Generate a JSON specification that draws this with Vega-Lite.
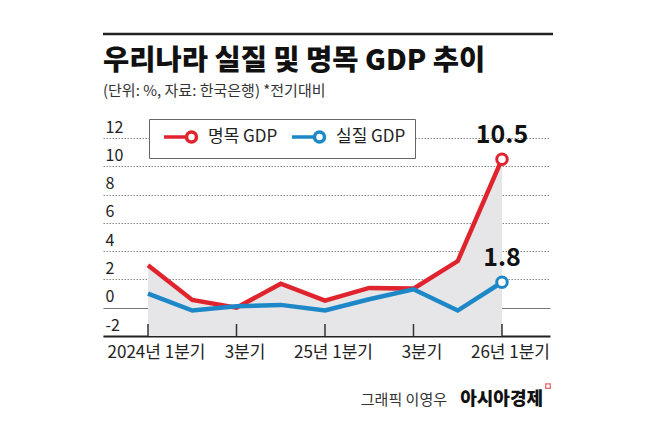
{
  "$schema": "https://vega.github.io/schema/vega-lite/v6.json",
  "autosize": {"type": "none"},
  "width": 447,
  "height": 198,
  "padding": {"left": 103, "top": 138, "right": 108, "bottom": 95},
  "background": "white",
  "title": {
    "text": "우리나라 실질 및 명목 GDP 추이",
    "subtitle": "(단위: %, 자료: 한국은행) *전기대비",
    "anchor": "start",
    "frame": "group",
    "font": "Noto Sans CJK KR",
    "fontSize": 28.5,
    "fontWeight": 900,
    "color": "#111",
    "subtitleFont": "Noto Sans CJK KR",
    "subtitleFontSize": 15,
    "subtitleColor": "#333",
    "subtitlePadding": 8,
    "offset": 0,
    "dy": 66
  },
  "data": {
    "values": [
      {"i": 0, "series": "명목 GDP", "value": 3.0},
      {"i": 1, "series": "명목 GDP", "value": 0.55},
      {"i": 2, "series": "명목 GDP", "value": 0.0},
      {"i": 3, "series": "명목 GDP", "value": 1.7},
      {"i": 4, "series": "명목 GDP", "value": 0.5},
      {"i": 5, "series": "명목 GDP", "value": 1.4},
      {"i": 6, "series": "명목 GDP", "value": 1.35},
      {"i": 7, "series": "명목 GDP", "value": 3.3},
      {"i": 8, "series": "명목 GDP", "value": 10.5},
      {"i": 0, "series": "실질 GDP", "value": 1.0},
      {"i": 1, "series": "실질 GDP", "value": -0.2},
      {"i": 2, "series": "실질 GDP", "value": 0.1},
      {"i": 3, "series": "실질 GDP", "value": 0.2},
      {"i": 4, "series": "실질 GDP", "value": -0.2},
      {"i": 5, "series": "실질 GDP", "value": 0.6},
      {"i": 6, "series": "실질 GDP", "value": 1.3},
      {"i": 7, "series": "실질 GDP", "value": -0.2},
      {"i": 8, "series": "실질 GDP", "value": 1.8}
    ]
  },
  "encoding": {
    "x": {
      "field": "i",
      "type": "quantitative",
      "scale": {"domain": [-1.017, 9.085], "nice": false, "zero": false},
      "axis": {
        "values": [0, 2, 4, 6, 8],
        "labelExpr": "['2024년 1분기','','3분기','','25년 1분기','','3분기','','26년 1분기'][datum.value]",
        "title": null,
        "grid": false,
        "ticks": false,
        "domainColor": "#222",
        "domainWidth": 2,
        "labelFont": "Noto Sans CJK KR",
        "labelFontSize": 17,
        "labelColor": "#222",
        "labelPadding": 8,
        "labelOffset": 8
      }
    },
    "y": {
      "field": "value",
      "type": "quantitative",
      "scale": {"domain": [-2, 12], "nice": false, "zero": false},
      "axis": {
        "values": [-2, 0, 2, 4, 6, 8, 10, 12],
        "labelExpr": "'' + datum.value",
        "title": null,
        "domain": false,
        "ticks": false,
        "labelAlign": "left",
        "labelBaseline": "alphabetic",
        "labelOffset": -6,
        "labelPadding": -2,
        "labelFont": "Noto Sans CJK KR",
        "labelFontSize": 16,
        "labelColor": "#222",
        "grid": true,
        "gridColor": {"condition": {"test": "datum.value === 0", "value": "#777"}, "value": "#888"},
        "gridDash": {"condition": {"test": "datum.value === 0", "value": []}, "value": [1.5, 1.5]},
        "gridWidth": 1
      }
    }
  },
  "layer": [
    {
      "transform": [{"filter": "datum.series == '명목 GDP'"}],
      "mark": {"type": "area", "color": "#e6e6e8"},
      "encoding": {"y2": {"datum": -2}}
    },
    {
      "transform": [{"filter": "datum.series == '명목 GDP' && datum.i % 2 == 0"}],
      "mark": {"type": "rule", "color": "#333", "strokeWidth": 1.5},
      "encoding": {"y": {"datum": -2}, "y2": {"datum": -1.15}}
    },
    {
      "mark": {"type": "line", "strokeWidth": 4.5, "strokeJoin": "miter"},
      "encoding": {
        "color": {
          "field": "series",
          "type": "nominal",
          "scale": {"domain": ["명목 GDP", "실질 GDP"], "range": ["#e0242e", "#1d88c8"]},
          "legend": {
            "title": null,
            "orient": "none",
            "legendX": 46,
            "legendY": -19,
            "direction": "horizontal",
            "strokeColor": "#666",
            "fillColor": "white",
            "padding": 9,
            "symbolType": "M-2.43,0H0.79M2.21,0A0.71,0.71,0,1,1,0.79,0A0.71,0.71,0,1,1,2.21,0",
            "symbolSize": 196,
            "symbolStrokeWidth": 3.5,
            "symbolOffset": 14,
            "labelOffset": 18,
            "columnPadding": 6,
            "labelFont": "Noto Sans CJK KR",
            "labelFontSize": 17,
            "labelColor": "#222",
            "encode": {"symbols": {"update": {"fill": {"value": "white"}}}}
          }
        }
      }
    },
    {
      "transform": [{"filter": "datum.i == 8"}],
      "mark": {"type": "point", "filled": true, "fill": "white", "size": 110, "strokeWidth": 3, "opacity": 1},
      "encoding": {
        "stroke": {"field": "series", "type": "nominal", "scale": {"domain": ["명목 GDP", "실질 GDP"], "range": ["#e0242e", "#1d88c8"]}, "legend": null}
      }
    },
    {
      "transform": [{"filter": "datum.i == 8"}],
      "mark": {"type": "text", "dy": -24, "font": "Noto Sans CJK KR", "fontSize": 25, "fontWeight": "bold", "color": "#111"},
      "encoding": {"text": {"field": "value", "type": "quantitative", "format": ".1f"}}
    },
    {
      "transform": [{"filter": "datum.i == 0 && datum.series == '명목 GDP'"}],
      "mark": {"type": "rule", "color": "#222", "strokeWidth": 2.5},
      "encoding": {"x": {"datum": -1.017}, "x2": {"datum": 9.153}, "y": {"datum": 19.35}}
    },
    {
      "transform": [{"filter": "datum.i == 0 && datum.series == '명목 GDP'"}],
      "mark": {"type": "text", "align": "right", "font": "Noto Sans CJK KR", "fontSize": 15, "color": "#333"},
      "encoding": {"x": {"datum": 6.757}, "y": {"datum": -6.5}, "text": {"value": "그래픽 이영우"}}
    },
    {
      "transform": [{"filter": "datum.i == 0 && datum.series == '명목 GDP'"}],
      "mark": {"type": "text", "align": "right", "font": "Noto Sans CJK KR", "fontSize": 18, "fontWeight": 900, "color": "#111"},
      "encoding": {"x": {"datum": 8.927}, "y": {"datum": -6.5}, "text": {"value": "아시아경제"}}
    },
    {
      "transform": [{"filter": "datum.i == 0 && datum.series == '명목 GDP'"}],
      "mark": {"type": "point", "shape": "square", "filled": false, "size": 20, "color": "#e0242e", "strokeWidth": 1.3},
      "encoding": {"x": {"datum": 9.04}, "y": {"datum": -5.55}}
    }
  ],
  "config": {"view": {"stroke": null}}
}
